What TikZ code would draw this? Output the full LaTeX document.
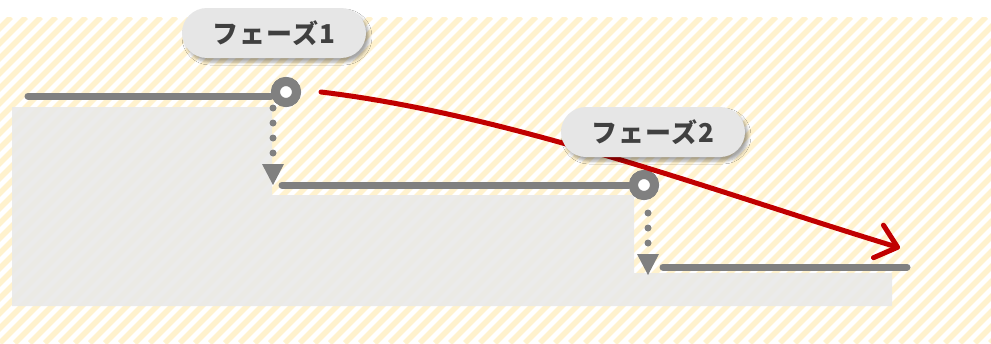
\documentclass[tikz,border=0pt]{standalone}
\usepackage{fontspec}
\newfontfamily\jpfont{Noto Sans CJK JP}[LetterSpace=4]
\usetikzlibrary{arrows.meta,shadows.blur}
\definecolor{stepgray}{HTML}{808080}
\definecolor{floorgray}{HTML}{E9E9E9}
\definecolor{stripeyellow}{HTML}{FFF2CE}
\definecolor{pathred}{HTML}{C00000}
\definecolor{pillgray}{HTML}{E6E6E6}
\definecolor{pilltext}{HTML}{404040}

\begin{document}
\begin{tikzpicture}[x=1pt,y=-1pt,line cap=round,
  level/.style={stepgray,line width=7pt},
  drop/.style={stepgray,line width=7pt,dash pattern=on 0pt off 15pt,
    -{Triangle[length=21pt,width=22pt,line width=0pt]}},
  joint/.style={circle,draw=stepgray,fill=white,line width=9pt,minimum size=21pt,inner sep=0pt},
  phase/.style={rounded corners=25pt,fill=pillgray,minimum width=184pt,minimum height=50pt,
    text=pilltext,font=\jpfont\bfseries\fontsize{26}{26}\selectfont,
    blur shadow={shadow xshift=3pt,shadow yshift=-4pt,shadow opacity=35,shadow blur radius=3pt}}]
\useasboundingbox[fill=white] (0,0) rectangle (991,343);
% hatched backdrop
\begin{scope}
\clip (0,17) rectangle (991,343);
\foreach \i in {-23,...,68}
  \draw[stripeyellow,line width=5.5pt,line cap=butt] (\i*15,343) -- ++(326,-326);
\end{scope}
% the steps
\fill[floorgray,fill opacity=0.88] (12,107) -| (272,195) -| (634,273) -| (892,306) -| (12,107) -- cycle;
\coordinate (l1) at (28,96);
\coordinate (l2) at (282,185);
\coordinate (l3) at (663,267);
\coordinate (l3end) at (907,267);
\node[joint] (j1) at (286,92) {};
\node[joint] (j2) at (644,185) {};
\draw[level] (l1) -- (j1.west |- l1);
\draw[level] (l2) -- (j2.west);
\draw[level] (l3) -- (l3end);
\node[joint] at (j1) {};
\node[joint] at (j2) {};
% drops
\coordinate (d1) at (273,108);
\coordinate (t1) at (273,185);
\coordinate (d2) at (648,213);
\coordinate (t2) at (648,275);
\draw[drop] (d1) -- (t1);
\draw[drop] (d2) -- (t2);
% red path
\coordinate (r0) at (321,92);
\coordinate (r1) at (900,248);
\draw[pathred,line width=5pt,-{Straight Barb[length=20pt,width=34pt,round]}]
  (r0) .. controls +(190,23) and +(-190,-58) .. (r1);
% labels
\node[phase] (p1) at (274,33) {フェーズ1};
\node[phase] (p2) at (653,132) {フェーズ2};
\end{tikzpicture}
\end{document}
